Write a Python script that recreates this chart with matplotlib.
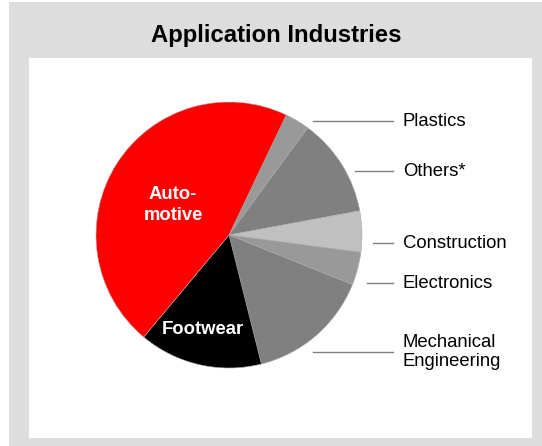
import matplotlib.pyplot as plt
from matplotlib.patches import Rectangle

plt.rcParams['font.family'] = ['Liberation Sans', 'DejaVu Sans']

# data (share in %)
industries = ["Plastics", "Others*", "Construction", "Electronics",
              "Mechanical\nEngineering", "Footwear", "Automotive"]
shares = [3, 12, 5, 4, 15, 15, 46]
colors = ["#999999", "#808080", "#c0c0c0", "#999999", "#808080", "#000000", "#ff0000"]
inside_labels = {"Footwear": "Footwear", "Automotive": "Auto-\nmotive"}

W, H = 542, 446
fig = plt.figure(figsize=(W / 100, H / 100), dpi=100)

def fx(px):
    return px / W

def fy(py):
    return 1 - py / H

# background boxes
fig.patches.append(Rectangle((fx(9), fy(446)), fx(533), 444 / H, transform=fig.transFigure,
                             facecolor="#dddddd", edgecolor="none", zorder=-2))
fig.patches.append(Rectangle((fx(29), fy(438)), fx(503), 380 / H, transform=fig.transFigure,
                             facecolor="white", edgecolor="none", zorder=-1))
fig.text(fx(276), fy(41.7), "Application Industries", ha="center", va="baseline",
         fontsize=17.2, fontweight="bold")

# pie, centre (229, 235) px, radius 133 px
cx, cy, r = 229, 235, 133
ax = fig.add_axes([fx(cx - r), fy(cy + r), 2 * r / W, 2 * r / H], zorder=2)
ax.patch.set_visible(False)
wedges, _ = ax.pie(shares, colors=colors, startangle=64.5, counterclock=False,
                   radius=1, wedgeprops=dict(linewidth=0.4, edgecolor="#aaaaaa"))
ax.set_xlim(-1, 1)
ax.set_ylim(-1, 1)
ax.set_aspect("equal")
ax.axis("off")

# labels inside the pie
fig.text(fx(173), fy(205), inside_labels["Automotive"], ha="center", va="center",
         fontsize=13.3, fontweight="bold", color="white", linespacing=1.25, zorder=5)
fig.text(fx(203), fy(329), inside_labels["Footwear"], ha="center", va="center",
         fontsize=13.3, fontweight="bold", color="white", zorder=5)

# outside labels with leader lines
label_y = [121, 171, 243, 283, 352]
line_x0 = [313, 355, 373, 367, 313]
for name, y, x0 in zip(industries[:5], label_y, line_x0):
    fig.add_artist(plt.Line2D([fx(x0), fx(393)], [fy(y), fy(y)], transform=fig.transFigure,
                              color="#808080", lw=1))
    fig.text(fx(403), fy(y), name, ha="left", va="center", fontsize=13.3, linespacing=1.22)

fig.savefig("out.png", dpi=100)
